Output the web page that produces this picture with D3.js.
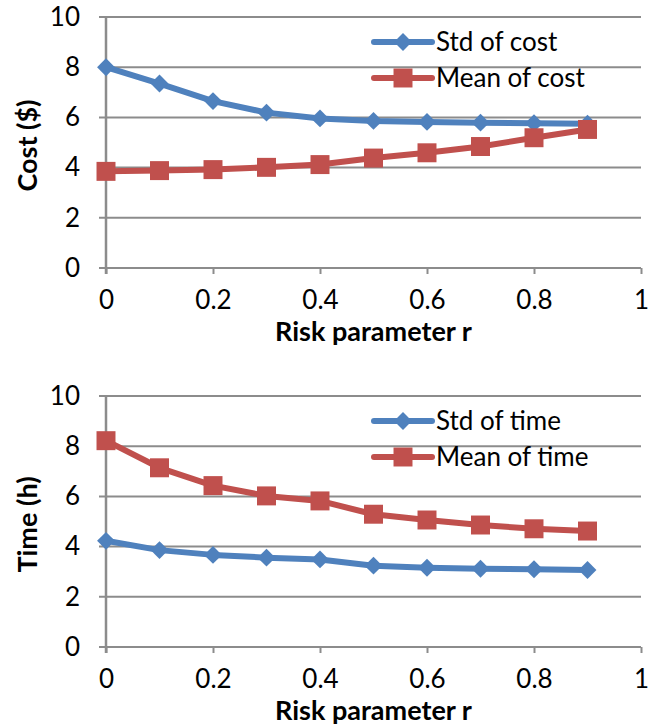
<!DOCTYPE html>
<html>
<head>
<meta charset="utf-8">
<script src="https://cdn.jsdelivr.net/npm/d3@7/dist/d3.min.js"></script>
<style>
  html, body { margin: 0; padding: 0; background: #fff; }
  svg { display: block; }
  text { font-family: Lato, "Open Sans", sans-serif; fill: #000; }
</style>
</head>
<body>
<svg id="fig" width="648" height="725"></svg>
<script>
// Risk parameter values shared by both panels
const riskParams = [0, 0.1, 0.2, 0.3, 0.4, 0.5, 0.6, 0.7, 0.8, 0.9];

// Cost panel series ($)
const stdCost  = [8.0, 7.35, 6.65, 6.19, 5.96, 5.86, 5.82, 5.79, 5.77, 5.75];
const meanCost = [3.85, 3.88, 3.92, 4.01, 4.12, 4.38, 4.59, 4.84, 5.19, 5.52];

// Time panel series (h)
const stdTime  = [4.23, 3.86, 3.67, 3.56, 3.49, 3.24, 3.16, 3.12, 3.10, 3.07];
const meanTime = [8.22, 7.14, 6.43, 6.02, 5.82, 5.29, 5.06, 4.86, 4.71, 4.62];

// Axis tick labels
const xTicks = [0, 0.2, 0.4, 0.6, 0.8, 1];
const xTickLabels = ["0", "0.2", "0.4", "0.6", "0.8", "1"];
const yTicks = [0, 2, 4, 6, 8, 10];

const BLUE = "#4F81BD";
const RED = "#C0504D";
const GRID = "#8C8C8C";
const TICK_FONT = 26;
const TITLE_FONT = 27;

const svg = d3.select("#fig");

function drawPanel(opts) {
  const { top, bottom, left, right, yLabel, series, legendX, legendY } = opts;
  const g = svg.append("g");

  const x = d3.scaleLinear().domain([0, 1]).range([left, right]);
  const y = d3.scaleLinear().domain([0, 10]).range([bottom, top]);

  // horizontal gridlines
  g.append("g").selectAll("line").data(yTicks).join("line")
    .attr("x1", left - 7).attr("x2", right)
    .attr("y1", d => y(d)).attr("y2", d => y(d))
    .attr("stroke", GRID).attr("stroke-width", 2);

  // y axis labels
  const yAxis = d3.axisLeft(y).tickValues(yTicks).tickSize(0).tickPadding(26)
    .tickFormat(d3.format("d"));
  const ya = g.append("g").attr("transform", `translate(${left},0)`).call(yAxis);
  ya.select(".domain").remove();
  ya.selectAll("text").attr("font-size", TICK_FONT).style("font-family", "Lato, sans-serif");

  // vertical axis line
  g.append("line").attr("x1", left).attr("x2", left)
    .attr("y1", top).attr("y2", bottom + 6)
    .attr("stroke", GRID).attr("stroke-width", 2.5);

  // x axis ticks and labels
  const xAxis = d3.axisBottom(x).tickValues(xTicks).tickSize(6).tickPadding(17)
    .tickFormat((d, i) => xTickLabels[i]);
  const xa = g.append("g").attr("transform", `translate(0,${bottom})`).call(xAxis);
  xa.select(".domain").remove();
  xa.selectAll("line").attr("stroke", GRID).attr("stroke-width", 2);
  xa.selectAll("text").attr("font-size", TICK_FONT).style("font-family", "Lato, sans-serif");

  // axis titles
  g.append("text")
    .attr("x", (left + right) / 2)
    .attr("y", bottom + 73)
    .attr("text-anchor", "middle")
    .attr("font-size", TITLE_FONT).attr("font-weight", "bold")
    .text("Risk parameter r");

  const midY = (top + bottom) / 2;
  g.append("text")
    .attr("transform", `translate(37,${midY + 3}) rotate(-90)`)
    .attr("text-anchor", "middle")
    .attr("font-size", TITLE_FONT).attr("font-weight", "bold")
    .text(yLabel);

  const line = d3.line().x((d, i) => x(riskParams[i])).y(d => y(d));
  const diamond = d3.symbol().type(d3.symbolSquare).size(160);
  const square = d3.symbol().type(d3.symbolSquare).size(360);

  function markers(sel, shape) {
    if (shape === "diamond") {
      sel.attr("d", diamond).attr("transform", p => `translate(${p[0]},${p[1]}) rotate(45)`);
    } else {
      sel.attr("d", square).attr("transform", p => `translate(${p[0]},${p[1]})`);
    }
  }

  series.forEach(s => {
    g.append("path").datum(s.values)
      .attr("d", line).attr("fill", "none")
      .attr("stroke", s.color).attr("stroke-width", 6)
      .attr("stroke-linejoin", "round").attr("stroke-linecap", "round");
    g.append("g").selectAll("path")
      .data(s.values.map((v, i) => [x(riskParams[i]), y(v)]))
      .join("path").attr("fill", s.color)
      .call(markers, s.shape);
  });

  // legend
  series.forEach((s, i) => {
    const ly = legendY + i * 36;
    const lg = g.append("g");
    lg.append("line").attr("x1", legendX).attr("x2", legendX + 58)
      .attr("y1", ly).attr("y2", ly)
      .attr("stroke", s.color).attr("stroke-width", 6).attr("stroke-linecap", "round");
    lg.append("path").attr("fill", s.color)
      .datum([legendX + 29, ly]).call(markers, s.shape);
    lg.append("text").attr("x", legendX + 62).attr("y", ly + 9)
      .attr("font-size", TICK_FONT).text(s.name);
  });
}

drawPanel({
  top: 17, bottom: 268, left: 106, right: 641,
  yLabel: "Cost ($)",
  legendX: 374, legendY: 42,
  series: [
    { name: "Std of cost", values: stdCost, color: BLUE, shape: "diamond" },
    { name: "Mean of cost", values: meanCost, color: RED, shape: "square" }
  ]
});

drawPanel({
  top: 396, bottom: 647, left: 106, right: 641,
  yLabel: "Time (h)",
  legendX: 374, legendY: 421,
  series: [
    { name: "Std of time", values: stdTime, color: BLUE, shape: "diamond" },
    { name: "Mean of time", values: meanTime, color: RED, shape: "square" }
  ]
});
</script>
</body>
</html>
